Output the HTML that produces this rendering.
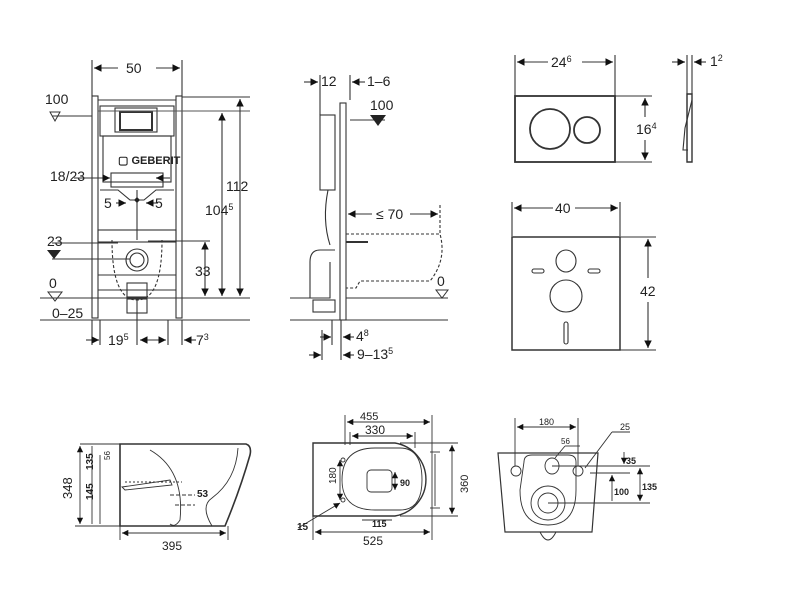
<!DOCTYPE html>
<html><head><meta charset="utf-8"><style>
html,body{margin:0;padding:0;background:#fff}
svg{display:block}
text{font-family:"Liberation Sans",sans-serif;fill:#222}
</style></head><body>
<svg width="800" height="600" viewBox="0 0 800 600" xmlns="http://www.w3.org/2000/svg">
<defs>
<marker id="a" viewBox="0 0 10 10" refX="10" refY="5" markerWidth="7" markerHeight="7" orient="auto-start-reverse"><path d="M0,0L10,5L0,10z" fill="#111"/></marker>
</defs>
<g stroke="#333" stroke-width="1.1" fill="none">
<!-- ===== Front frame ===== -->
<line x1="92" y1="60" x2="92" y2="96"/><line x1="182" y1="60" x2="182" y2="96"/>
<line x1="94" y1="68" x2="118" y2="68" marker-start="url(#a)"/><line x1="156" y1="68" x2="180" y2="68" marker-end="url(#a)"/>
<rect x="92" y="96" width="6" height="222"/><rect x="176" y="96" width="6" height="222"/>
<line x1="98" y1="100" x2="176" y2="100"/>
<rect x="100" y="106" width="74" height="30"/>
<rect x="115" y="108" width="42" height="24"/>
<rect x="120" y="112" width="32" height="18" stroke-width="2"/>
<rect x="103" y="136" width="68" height="46"/>
<text x="118" y="164" font-size="11" font-weight="bold" stroke="none" fill="#999">▢ GEBERIT</text>
<rect x="111" y="173" width="52" height="14"/>
<path d="M100,190 L118,190 L130,200 L144,200 L156,190 L174,190"/>
<line x1="137" y1="190" x2="137" y2="240"/>
<rect x="98" y="230" width="78" height="12"/>
<circle cx="137" cy="260" r="11"/><circle cx="137" cy="260" r="7"/>
<path d="M112,240 Q112,300 137,300 Q162,300 162,240" stroke-dasharray="3,2"/>
<rect x="127" y="283" width="20" height="14"/><rect x="127" y="299" width="20" height="14"/>
<line x1="98" y1="275" x2="176" y2="275"/>
<line x1="98" y1="290" x2="176" y2="290"/>
<line x1="98" y1="111" x2="250" y2="111" stroke="#555"/>
<line x1="182" y1="97" x2="250" y2="97"/>
<line x1="40" y1="298" x2="250" y2="298"/>
<line x1="40" y1="320" x2="250" y2="320"/>
<line x1="52" y1="116" x2="92" y2="116"/>
<line x1="240" y1="99" x2="240" y2="296" marker-start="url(#a)" marker-end="url(#a)"/>
<line x1="222" y1="113" x2="222" y2="296" marker-start="url(#a)" marker-end="url(#a)"/>
<line x1="205" y1="242" x2="205" y2="296" marker-start="url(#a)" marker-end="url(#a)"/>
<line x1="148" y1="241" x2="210" y2="241"/>
<line x1="52" y1="243" x2="118" y2="243"/>
<line x1="52" y1="259" x2="130" y2="259"/>
<line x1="74" y1="178" x2="110" y2="178" marker-end="url(#a)"/>
<line x1="170" y1="178" x2="156" y2="178" marker-end="url(#a)"/>
<line x1="116" y1="203" x2="126" y2="203" marker-end="url(#a)"/>
<line x1="158" y1="203" x2="146" y2="203" marker-end="url(#a)"/>
<line x1="92" y1="320" x2="92" y2="345"/><line x1="100" y1="320" x2="100" y2="345"/>
<line x1="137" y1="300" x2="137" y2="345"/><line x1="168" y1="320" x2="168" y2="345"/>
<line x1="182" y1="320" x2="182" y2="345"/>
<line x1="86" y1="340" x2="99" y2="340" marker-end="url(#a)"/>
<line x1="140" y1="340" x2="166" y2="340" marker-start="url(#a)" marker-end="url(#a)"/>
<line x1="196" y1="340" x2="184" y2="340" marker-end="url(#a)"/>
<!-- ===== Side view ===== -->
<rect x="340" y="103" width="6" height="217"/>
<rect x="320" y="115" width="15" height="75"/>
<path d="M328,190 Q322,220 330,245"/>
<path d="M335,250 L320,250 Q310,250 310,262 L310,298 L330,298 L330,262"/>
<rect x="313" y="300" width="22" height="12"/>
<line x1="346" y1="242" x2="368" y2="242" stroke-width="2"/>
<path d="M346,234 L440,234 Q447,260 430,281 L360,281 L356,288 L346,288" stroke-dasharray="3,2"/>
<line x1="440" y1="205" x2="440" y2="234" stroke-dasharray="3,2"/>
<line x1="348" y1="214" x2="372" y2="214" marker-start="url(#a)"/><line x1="410" y1="214" x2="438" y2="214" marker-end="url(#a)"/>
<line x1="290" y1="298" x2="310" y2="298"/><line x1="346" y1="298" x2="448" y2="298"/>
<line x1="290" y1="320" x2="448" y2="320"/>
<line x1="350" y1="120" x2="385" y2="120"/>
<line x1="320" y1="75" x2="320" y2="115"/><line x1="350" y1="75" x2="350" y2="100"/>
<line x1="304" y1="82" x2="318" y2="82" marker-end="url(#a)"/>
<line x1="365" y1="82" x2="352" y2="82" marker-end="url(#a)"/>
<line x1="322" y1="330" x2="322" y2="360"/><line x1="332" y1="320" x2="332" y2="345"/>
<line x1="341" y1="320" x2="341" y2="360"/>
<line x1="320" y1="337" x2="331" y2="337" marker-end="url(#a)"/>
<line x1="354" y1="337" x2="343" y2="337" marker-end="url(#a)"/>
<line x1="309" y1="355" x2="321" y2="355" marker-end="url(#a)"/>
<line x1="354" y1="355" x2="343" y2="355" marker-end="url(#a)"/>
<!-- ===== Flush plate ===== -->
<line x1="515" y1="55" x2="515" y2="96"/><line x1="615" y1="55" x2="615" y2="96"/>
<line x1="517" y1="62" x2="548" y2="62" marker-start="url(#a)"/><line x1="582" y1="62" x2="613" y2="62" marker-end="url(#a)"/>
<rect x="515" y="96" width="100" height="66" stroke-width="1.8"/>
<circle cx="550" cy="129" r="20" stroke-width="1.8"/>
<circle cx="587" cy="130" r="13" stroke-width="1.8"/>
<line x1="615" y1="96" x2="652" y2="96"/><line x1="615" y1="162" x2="652" y2="162"/>
<line x1="645" y1="98" x2="645" y2="117" marker-start="url(#a)"/><line x1="645" y1="140" x2="645" y2="160" marker-end="url(#a)"/>
<line x1="687" y1="55" x2="687" y2="160"/><line x1="692" y1="55" x2="692" y2="94"/>
<path d="M687,94 L692,94 L692,162 L687,162 Z" stroke-width="1.4"/>
<path d="M692,100 L685,128 L683,150 L688,150"/>
<line x1="672" y1="62" x2="685" y2="62" marker-end="url(#a)"/>
<line x1="706" y1="62" x2="694" y2="62" marker-end="url(#a)"/>
<!-- ===== Mat ===== -->
<line x1="512" y1="202" x2="512" y2="236"/><line x1="620" y1="202" x2="620" y2="236"/>
<line x1="514" y1="208" x2="553" y2="208" marker-start="url(#a)"/><line x1="575" y1="208" x2="618" y2="208" marker-end="url(#a)"/>
<rect x="512" y="237" width="108" height="113" stroke-width="1.5"/>
<ellipse cx="566" cy="261" rx="10" ry="11"/>
<rect x="532" y="269" width="12" height="4" rx="2"/><rect x="588" y="269" width="12" height="4" rx="2"/>
<circle cx="566" cy="296" r="16"/>
<rect x="564" y="322" width="4" height="22" rx="2"/>
<line x1="620" y1="237" x2="656" y2="237"/><line x1="620" y1="350" x2="656" y2="350"/>
<line x1="648" y1="239" x2="648" y2="278" marker-start="url(#a)"/><line x1="648" y1="302" x2="648" y2="348" marker-end="url(#a)"/>
</g>
<g font-size="14" stroke="none">
<text x="126" y="73">50</text>
<text x="45" y="104">100</text>
<text x="50" y="181">18/23</text>
<text x="104" y="208">5</text><text x="155" y="208">5</text>
<text x="47" y="246">23</text>
<text x="49" y="288">0</text>
<text x="52" y="318">0–25</text>
<text x="226" y="191">112</text>
<text x="205" y="215">104<tspan font-size="9" dy="-5">5</tspan></text>
<text x="195" y="276">33</text>
<text x="108" y="345">19<tspan font-size="9" dy="-5">5</tspan></text>
<text x="196" y="345">7<tspan font-size="9" dy="-5">3</tspan></text>
<text x="321" y="86">12</text><text x="367" y="86">1–6</text>
<text x="370" y="110">100</text>
<text x="376" y="219">≤ 70</text>
<text x="437" y="286">0</text>
<text x="356" y="341">4<tspan font-size="9" dy="-5">8</tspan></text>
<text x="357" y="359">9–13<tspan font-size="9" dy="-5">5</tspan></text>
<text x="551" y="67">24<tspan font-size="9" dy="-5">6</tspan></text>
<text x="710" y="66">1<tspan font-size="9" dy="-5">2</tspan></text>
<text x="636" y="134">16<tspan font-size="9" dy="-5">4</tspan></text>
<text x="555" y="213">40</text>
<text x="640" y="296">42</text>
</g>
<g fill="#222" stroke="none">
<path d="M50,112 L60,112 L55,121 Z" fill="none" stroke="#333"/>
<path d="M370,115 L386,115 L378,126 Z"/>
<path d="M47,250 L61,250 L54,259 Z"/>
<path d="M48,292 L62,292 L55,301 Z" fill="none" stroke="#333"/>
<path d="M436,290 L448,290 L442,298 Z" fill="none" stroke="#333"/>
<path d="M134,200 l3,-3 l3,3 l-3,3z"/>
</g>
<!-- ===== Bottom row ===== -->
<g stroke="#333" stroke-width="0.9" fill="none">
<path d="M120,444 L246,444 Q252,446 250,455 Q240,490 225,526 L120,526 Z" stroke-width="1.6"/>
<path d="M150,450 Q185,470 180,520 Q175,528 170,524" />
<path d="M238,448 Q236,480 212,498 Q200,506 212,526"/>
<path d="M122,487 L170,480 L172,485 L125,490 Z"/>
<line x1="80" y1="444" x2="120" y2="444"/><line x1="75" y1="526" x2="120" y2="526"/>
<line x1="80" y1="446" x2="80" y2="524" marker-start="url(#a)" marker-end="url(#a)"/>
<line x1="92" y1="446" x2="92" y2="524"/>
<line x1="100" y1="455" x2="100" y2="524"/>
<line x1="120" y1="526" x2="120" y2="540"/><line x1="228" y1="526" x2="228" y2="540"/>
<line x1="122" y1="533" x2="226" y2="533" marker-start="url(#a)" marker-end="url(#a)"/>
<line x1="125" y1="482" x2="182" y2="482" stroke-dasharray="2,2"/>
<line x1="170" y1="495" x2="195" y2="495" stroke-dasharray="4,2"/>
<line x1="175" y1="505" x2="195" y2="505" stroke-dasharray="4,2"/>
<path d="M313,443 L395,443 A37,37 0 0 1 395,516 L313,516 Z" stroke-width="1.4"/>
<path d="M375,448 L400,448 Q422,448 422,480 Q422,510 400,510 L375,510 Q342,510 342,480 Q342,448 375,448 Z"/>
<rect x="367" y="470" width="25" height="22" rx="4"/>
<line x1="345" y1="415" x2="345" y2="445"/><line x1="432" y1="415" x2="432" y2="540"/>
<line x1="347" y1="422" x2="430" y2="422" marker-start="url(#a)" marker-end="url(#a)"/>
<line x1="350" y1="432" x2="350" y2="445"/><line x1="415" y1="432" x2="415" y2="448"/>
<line x1="352" y1="436" x2="413" y2="436" marker-start="url(#a)" marker-end="url(#a)"/>
<line x1="313" y1="516" x2="313" y2="540"/>
<line x1="315" y1="532" x2="430" y2="532" marker-start="url(#a)" marker-end="url(#a)"/>
<line x1="400" y1="443" x2="458" y2="443"/><line x1="400" y1="516" x2="458" y2="516"/>
<line x1="452" y1="445" x2="452" y2="514" marker-start="url(#a)" marker-end="url(#a)"/>
<line x1="430" y1="452" x2="440" y2="452"/><line x1="430" y1="508" x2="440" y2="508"/>
<line x1="435" y1="454" x2="435" y2="506"/>
<line x1="340" y1="460" x2="340" y2="500" marker-start="url(#a)" marker-end="url(#a)"/>
<circle cx="343" cy="460" r="2"/><circle cx="343" cy="500" r="2"/>
<line x1="395" y1="472" x2="395" y2="490" marker-start="url(#a)" marker-end="url(#a)"/>
<line x1="298" y1="528" x2="340" y2="503" marker-end="url(#a)"/>
<line x1="362" y1="520" x2="392" y2="520"/>
<path d="M498,453 L598,453 L592,532 L505,532 Z" stroke-width="1.2"/>
<path d="M524,462 Q524,455 532,455 L568,455 Q576,455 576,462 L576,490 Q576,525 548,525 Q520,525 520,490 Z"/>
<path d="M540,532 Q548,548 556,532"/>
<circle cx="516" cy="471" r="5"/><circle cx="578" cy="471" r="5"/>
<ellipse cx="552" cy="466" rx="7" ry="8"/>
<circle cx="548" cy="503" r="17"/><circle cx="548" cy="503" r="10"/>
<line x1="515" y1="418" x2="515" y2="466"/><line x1="578" y1="418" x2="578" y2="466"/>
<line x1="517" y1="427" x2="576" y2="427" marker-start="url(#a)" marker-end="url(#a)"/>
<line x1="555" y1="458" x2="565" y2="446"/><line x1="565" y1="446" x2="580" y2="446"/>
<line x1="585" y1="468" x2="612" y2="432"/><line x1="612" y1="432" x2="630" y2="432"/>
<line x1="552" y1="466" x2="650" y2="466"/>
<line x1="590" y1="473" x2="630" y2="473"/>
<line x1="548" y1="503" x2="650" y2="503"/>
<line x1="612" y1="475" x2="612" y2="501" marker-start="url(#a)"/>
<line x1="640" y1="468" x2="640" y2="501" marker-start="url(#a)" marker-end="url(#a)"/>
<line x1="624" y1="452" x2="624" y2="464" marker-end="url(#a)"/>
</g>
<g stroke="none">
<text x="72" y="499" font-size="13" transform="rotate(-90 72 499)">348</text>
<text x="93" y="500" font-size="10" font-weight="bold" transform="rotate(-90 93 500)">145</text>
<text x="93" y="470" font-size="10" font-weight="bold" transform="rotate(-90 93 470)">135</text>
<text x="110" y="460" font-size="8" transform="rotate(-90 110 460)">56</text>
<text x="197" y="497" font-size="10" font-weight="bold">53</text>
<text x="162" y="550" font-size="12">395</text>
<text x="360" y="420" font-size="11">455</text>
<text x="365" y="434" font-size="12">330</text>
<text x="336" y="484" font-size="10" transform="rotate(-90 336 484)">180</text>
<text x="400" y="486" font-size="9" font-weight="bold">90</text>
<text x="372" y="527" font-size="9" font-weight="bold">115</text>
<text x="297" y="530" font-size="10" font-weight="bold">15</text>
<text x="363" y="545" font-size="12">525</text>
<text x="468" y="493" font-size="11" transform="rotate(-90 468 493)">360</text>
<text x="539" y="425" font-size="9">180</text>
<text x="561" y="444" font-size="8">56</text>
<text x="620" y="430" font-size="9">25</text>
<text x="626" y="464" font-size="9" font-weight="bold">35</text>
<text x="614" y="495" font-size="9" font-weight="bold">100</text>
<text x="642" y="490" font-size="9" font-weight="bold">135</text>
</g>
</svg>
</body></html>
